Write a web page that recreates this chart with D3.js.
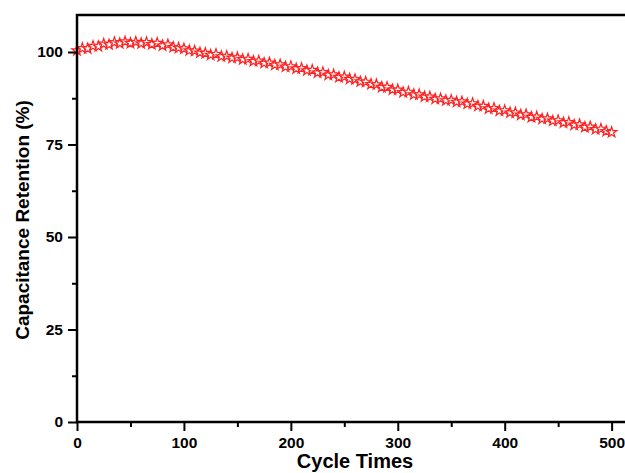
<!DOCTYPE html>
<html lang="en">
<head>
    <meta charset="UTF-8">
    <title>Capacitance Retention</title>
    <script src="https://d3js.org/d3.v7.min.js"></script>
    <style>
        body { margin: 0; background: #fff; }
        svg { display: block; }
        text { font-family: "Liberation Sans", Arial, sans-serif; font-weight: bold; }
    </style>
</head>
<body>
    <script>
        // cycle number (every 5 cycles) and retention in %
        const cycles = d3.range(0, 501, 5);
        const retention = [
            100.4, 101.0, 100.9, 101.6, 101.5, 102.2, 102.0, 102.6, 102.3, 102.8,
            102.4, 102.7, 102.3, 102.6, 102.1, 102.4, 101.7, 102.0, 101.3, 101.1,
            100.9, 100.4, 100.3, 99.8, 99.7, 99.2, 99.4, 98.8, 98.9, 98.4,
            98.5, 98.0, 98.1, 97.5, 97.6, 97.0, 97.1, 96.5, 96.6, 96.0,
            96.1, 95.5, 95.6, 95.0, 95.1, 94.4, 94.5, 93.8, 93.9, 93.2,
            93.3, 92.7, 92.6, 92.0, 91.9, 91.3, 91.2, 90.5, 90.5, 89.8,
            89.8, 89.1, 89.2, 88.5, 88.5, 87.9, 87.9, 87.3, 87.4, 86.9,
            87.0, 86.5, 86.6, 86.0, 86.1, 85.4, 85.4, 84.7, 84.8, 84.1,
            84.2, 83.6, 83.6, 83.0, 83.1, 82.4, 82.5, 81.9, 82.0, 81.4,
            81.5, 80.9, 81.0, 80.3, 80.4, 79.7, 79.8, 79.1, 79.2, 78.6,
            78.3
        ];
        const xTicks = [0, 100, 200, 300, 400, 500];
        const xMinor = [50, 150, 250, 350, 450];
        const yTicks = [0, 25, 50, 75, 100];
        const yMinor = [12.5, 37.5, 62.5, 87.5];

        const w = 625;
        const h = 473;
        const padLeft = 77, padTop = 15, plotW = 556, axisY = 422;

        const xScale = d3.scaleLinear().domain([0, 520]).range([padLeft, padLeft + plotW]);
        const yScale = d3.scaleLinear().domain([0, 110]).range([axisY, padTop]);

        const svg = d3.select("body").append("svg")
            .attr("width", w)
            .attr("height", h);

        // data stars
        const star = d3.symbol().type(d3.symbolStar).size(34);
        svg.append("g")
            .selectAll("path")
            .data(cycles.map((c, i) => [c, retention[i]]))
            .enter()
            .append("path")
            .attr("d", star)
            .attr("transform", d => "translate(" + xScale(d[0]) + "," + yScale(d[1]) + ")")
            .attr("fill", "#fff")
            .attr("stroke", "#f22")
            .attr("stroke-width", 1.2);

        // minor ticks
        const xMinorAxis = d3.axisBottom(xScale).tickValues(xMinor).tickSize(5).tickFormat("");
        const yMinorAxis = d3.axisLeft(yScale).tickValues(yMinor).tickSize(5).tickFormat("");

        const xAxis = d3.axisBottom(xScale).tickValues(xTicks).tickSize(9).tickPadding(6);
        const yAxis = d3.axisLeft(yScale).tickValues(yTicks).tickSize(9).tickPadding(5);

        svg.append("g").attr("transform", "translate(0," + axisY + ")").call(xMinorAxis);
        svg.append("g").attr("transform", "translate(" + padLeft + ",0)").call(yMinorAxis);
        svg.append("g").attr("transform", "translate(0," + axisY + ")").call(xAxis);
        svg.append("g").attr("transform", "translate(" + padLeft + ",0)").call(yAxis);

        svg.selectAll(".domain").remove();
        svg.selectAll(".tick line").attr("stroke", "#000").attr("stroke-width", 2);
        svg.selectAll(".tick text").attr("font-size", 15.5).attr("fill", "#000")
            .style("font-family", "'Liberation Sans', Arial, sans-serif").style("font-weight", "bold");

        // frame
        svg.append("rect")
            .attr("x", padLeft).attr("y", padTop)
            .attr("width", plotW).attr("height", axisY - padTop)
            .attr("fill", "none").attr("stroke", "#000").attr("stroke-width", 2.5);

        // axis titles
        svg.append("text")
            .attr("x", padLeft + plotW / 2).attr("y", 468)
            .attr("text-anchor", "middle")
            .attr("font-size", 20)
            .text("Cycle Times");

        svg.append("text")
            .attr("transform", "translate(29,220) rotate(-90)")
            .attr("text-anchor", "middle")
            .attr("font-size", 19)
            .text("Capacitance Retention (%)");
    </script>
</body>
</html>
